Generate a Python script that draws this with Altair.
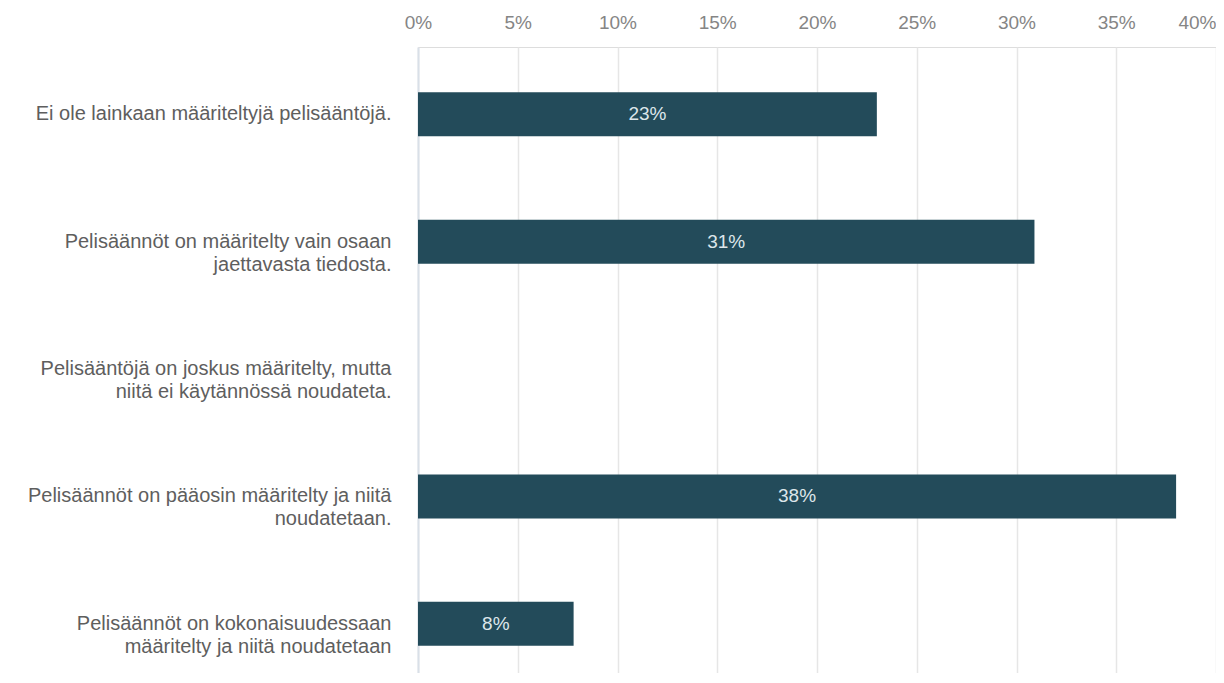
import altair as alt
import pandas as pd

categories = [
    "Ei ole lainkaan määriteltyjä pelisääntöjä.",
    "Pelisäännöt on määritelty vain osaan\njaettavasta tiedosta.",
    "Pelisääntöjä on joskus määritelty, mutta\nniitä ei käytännössä noudateta.",
    "Pelisäännöt on pääosin määritelty ja niitä\nnoudatetaan.",
    "Pelisäännöt on kokonaisuudessaan\nmääritelty ja niitä noudatetaan",
]
values = [23.0, 30.9, 0.0, 38.0, 7.8]
x_ticks = [0, 5, 10, 15, 20, 25, 30, 35, 40]

df = pd.DataFrame({"category": categories, "value": values})

FONT = "Liberation Sans"
BAR = "#234b5a"

y_enc = alt.Y(
    "category:N",
    sort=categories,
    title=None,
    scale=alt.Scale(paddingInner=0.655, paddingOuter=0.2845, align=0.625),
    axis=alt.Axis(
        labelExpr="split(datum.label, '\\n')",
        labelFont=FONT,
        labelFontSize=20,
        labelColor="#5e5e5e",
        labelLineHeight=23,
        labelAlign="right",
        labelBaseline="middle",
        labelPadding=27,
        labelLimit=0,
        ticks=False,
        domain=True,
        domainColor="#d9e0e8",
        domainWidth=2,
        grid=False,
        minExtent=410,
        maxExtent=410,
    ),
)

x_enc = alt.X(
    "value:Q",
    title=None,
    scale=alt.Scale(domain=[0, 40], nice=False),
    axis=alt.Axis(
        orient="top",
        values=x_ticks,
        labelExpr="datum.value + '%'",
        labelFont=FONT,
        labelFontSize=19,
        labelColor="#858585",
        labelPadding=19,
        labelBaseline="alphabetic",
        labelAlign=alt.ExprRef(expr="datum.value == 40 ? 'right' : 'center'"),
        ticks=False,
        domain=False,
        grid=True,
        gridColor="#e6e6e6",
        gridWidth=1.5,
        minExtent=39,
        maxExtent=39,
    ),
)

bars = alt.Chart(df).mark_bar(color=BAR).encode(x=x_enc, y=y_enc)

text = (
    alt.Chart(df)
    .transform_filter("datum.value > 0")
    .transform_calculate(
        label="format(round(datum.value), 'd') + '%'",
        mid="datum.value / 2",
    )
    .mark_text(font=FONT, fontSize=19, color="#dde6ea", baseline="middle", align="center")
    .encode(
        x=alt.X("mid:Q", scale=alt.Scale(domain=[0, 40], nice=False)),
        y=alt.Y("category:N", sort=categories),
        text="label:N",
    )
)

chart = (
    alt.layer(bars, text)
    .properties(width=798, height=626, padding=0)
    .configure_view(stroke=None)
    .configure(background="white")
)

chart.save("out.html", embed_options={"renderer": "svg", "actions": False})
